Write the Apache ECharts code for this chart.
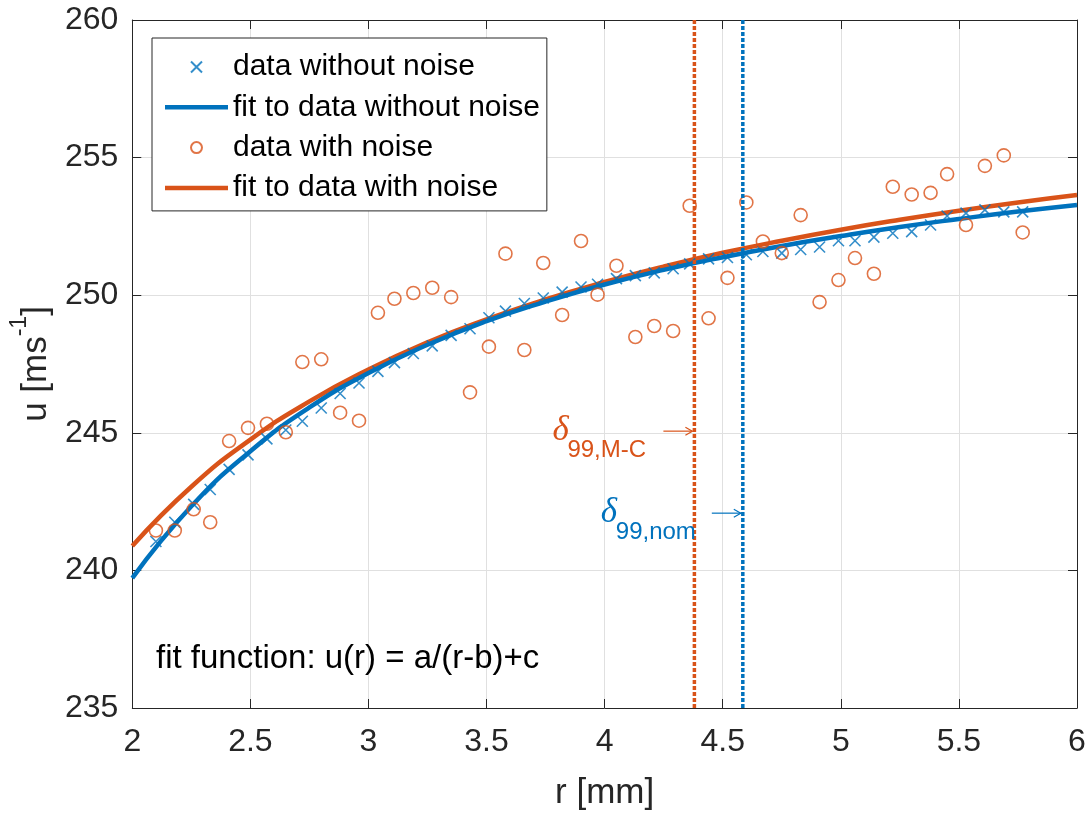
<!DOCTYPE html>
<html>
<head>
<meta charset="utf-8">
<script src="https://cdn.jsdelivr.net/npm/echarts@6/dist/echarts.min.js"></script>
<style>
html,body{margin:0;padding:0;background:#fff}
#c{width:1090px;height:816px}
</style>
</head>
<body>
<div id="c"></div>
<script>
// ---- data ----
const rValues = [2.10, 2.18, 2.26, 2.33, 2.41, 2.49, 2.57, 2.65, 2.72, 2.80,
  2.88, 2.96, 3.04, 3.11, 3.19, 3.27, 3.35, 3.43, 3.51, 3.58,
  3.66, 3.74, 3.82, 3.90, 3.97, 4.05, 4.13, 4.21, 4.29, 4.36,
  4.44, 4.52, 4.60, 4.67, 4.75, 4.83, 4.91, 4.99, 5.06, 5.14,
  5.22, 5.30, 5.38, 5.45, 5.53, 5.61, 5.69, 5.77];
const uWithoutNoise = [241.05, 241.75, 242.40, 242.94, 243.67, 244.20, 244.78, 245.10, 245.42, 245.90,
  246.43, 246.81, 247.23, 247.55, 247.88, 248.16, 248.54, 248.78, 249.18, 249.42,
  249.70, 249.90, 250.11, 250.30, 250.40, 250.60, 250.71, 250.81, 250.96, 251.14,
  251.32, 251.37, 251.47, 251.59, 251.53, 251.66, 251.75, 251.98, 251.98, 252.11,
  252.25, 252.31, 252.55, 252.88, 252.98, 253.10, 253.03, 253.03];
const uWithNoise = [241.45, 241.45, 242.22, 241.75, 244.70, 245.18, 245.33, 245.02, 247.57, 247.67,
  245.73, 245.44, 249.36, 249.87, 250.08, 250.27, 249.93, 246.47, 248.13, 251.51,
  248.01, 251.17, 249.28, 251.97, 250.02, 251.07, 248.48, 248.88, 248.70, 253.25,
  249.16, 250.63, 253.37, 251.95, 251.53, 252.91, 249.75, 250.55, 251.35, 250.78,
  253.94, 253.66, 253.72, 254.40, 252.55, 254.70, 255.08, 252.28];
const fitR = [2.00, 2.25, 2.50, 2.75, 3.00, 3.25, 3.50, 3.75, 4.00, 4.25, 4.50, 4.75, 5.00, 5.25, 5.50, 5.75, 6.00];
const fitWithoutNoise = [239.72, 242.33, 244.33, 245.92, 247.17, 248.20, 249.06, 249.77, 250.39, 250.92, 251.38, 251.79, 252.15, 252.48, 252.77, 253.04, 253.28];
const fitWithNoise = [240.89, 243.04, 244.75, 246.14, 247.30, 248.29, 249.12, 249.85, 250.48, 251.04, 251.54, 251.98, 252.38, 252.74, 253.07, 253.37, 253.64];
const delta99MC = 4.38;
const delta99Nom = 4.585;
const uRange = [235, 260];
const rRange = [2, 6];
const labelMC = {main: 'δ', sub: '99,M-C', u: 245.06};
const labelNom = {main: 'δ', sub: '99,nom', u: 242.08};
const fitText = 'fit function: u(r) = a/(r-b)+c';

// ---- styles ----
const BLUE = '#0072BD';
const ORANGE = '#D95319';
const AX = '#262626';
const FONT = '"Liberation Sans", Arial, Helvetica, sans-serif';
const CROSS = 'path://M0,0L10,10M10,0L0,10';
const LINE_ICON = 'path://M0,0h126v9h-126z';

const zip = (a, b) => a.map((v, i) => [v, b[i]]);

const chart = echarts.init(document.getElementById('c'), null, {renderer: 'canvas'});

const axisCommon = {
  axisLine: {show: true, lineStyle: {color: AX, width: 1}},
  axisTick: {show: true, inside: true, length: 9, lineStyle: {color: AX, width: 1}},
};

chart.setOption({
  animation: false,
  backgroundColor: '#fff',
  grid: {left: 131, right: 13, top: 20, bottom: 106, containLabel: false},
  legend: {
    orient: 'vertical',
    left: 152, top: 38,
    padding: [14, 7, 8, 13],
    itemGap: 10.3,
    itemWidth: 63,
    itemHeight: 11,
    itemTextGap: 10,
    backgroundColor: '#fff',
    borderColor: AX,
    borderWidth: 1,
    borderRadius: 0,
    textStyle: {fontSize: 30, color: '#000', fontFamily: FONT},
    data: [
      {name: 'data without noise'},
      {name: 'fit to data without noise', icon: LINE_ICON},
      {name: 'data with noise'},
      {name: 'fit to data with noise', icon: LINE_ICON}
    ]
  },
  xAxis: [
    Object.assign({
      type: 'value', min: rRange[0], max: rRange[1], interval: 0.5,
      position: 'bottom',
      name: 'r [mm]', nameLocation: 'middle', nameGap: 68,
      nameTextStyle: {fontSize: 35, color: AX, fontFamily: FONT},
      axisLabel: {fontSize: 32, color: AX, fontFamily: FONT, margin: 18},
      splitLine: {show: true, lineStyle: {color: '#e0e0e0', width: 1}}
    }, axisCommon),
    Object.assign({
      type: 'value', min: rRange[0], max: rRange[1], interval: 0.5,
      position: 'top',
      axisLabel: {show: false},
      splitLine: {show: false}
    }, axisCommon)
  ],
  yAxis: [
    Object.assign({
      type: 'value', min: uRange[0], max: uRange[1], interval: 5,
      position: 'left',
      name: '{b|u [ms}{sup|-1}{b|]}', nameLocation: 'middle', nameGap: 58,
      nameTextStyle: {fontSize: 35, color: AX, fontFamily: FONT,
        rich: {
          b: {fontSize: 35, color: AX, fontFamily: FONT, lineHeight: 46, verticalAlign: 'bottom'},
          sup: {fontSize: 23, color: AX, fontFamily: FONT, lineHeight: 46, verticalAlign: 'top'}
        }},
      axisLabel: {fontSize: 32, color: AX, fontFamily: FONT, margin: 14},
      splitLine: {show: true, lineStyle: {color: '#e0e0e0', width: 1}}
    }, axisCommon),
    Object.assign({
      type: 'value', min: uRange[0], max: uRange[1], interval: 5,
      position: 'right',
      axisLabel: {show: false},
      splitLine: {show: false}
    }, axisCommon)
  ],
  series: [
    {
      name: 'fit to data with noise', type: 'line', data: zip(fitR, fitWithNoise),
      smooth: true, symbol: 'none', showSymbol: false,
      lineStyle: {color: ORANGE, width: 4.5}, itemStyle: {color: ORANGE}, z: 2
    },
    {
      name: 'fit to data without noise', type: 'line', data: zip(fitR, fitWithoutNoise),
      smooth: true, symbol: 'none', showSymbol: false,
      lineStyle: {color: BLUE, width: 4.5}, itemStyle: {color: BLUE}, z: 2
    },
    {
      name: 'data without noise', type: 'scatter', data: zip(rValues, uWithoutNoise),
      symbol: CROSS, symbolSize: 11,
      itemStyle: {color: BLUE, borderColor: BLUE, borderWidth: 1.6}, z: 3
    },
    {
      name: 'data with noise', type: 'scatter', data: zip(rValues, uWithNoise),
      symbol: 'circle', symbolSize: 13,
      itemStyle: {color: 'rgba(255,255,255,0)', borderColor: ORANGE, borderWidth: 1.6}, z: 4
    },
    {
      name: 'delta99 M-C', type: 'line', data: [[delta99MC, uRange[0]], [delta99MC, uRange[1]]],
      symbol: 'none', lineStyle: {color: ORANGE, width: 3.5, type: [4, 2]}, z: 5
    },
    {
      name: 'delta99 nom', type: 'line', data: [[delta99Nom, uRange[0]], [delta99Nom, uRange[1]]],
      symbol: 'none', lineStyle: {color: BLUE, width: 3.5, type: [4, 2]}, z: 5
    }
  ]
});

function annotation(xLine, lab, color) {
  const p = chart.convertToPixel({gridIndex: 0}, [xLine, lab.u]);
  const tip = p[0] - 2, y = p[1];
  return [
    {type: 'line', silent: true, z: 10,
      shape: {x1: tip - 29, y1: y, x2: tip, y2: y},
      style: {stroke: color, lineWidth: 1.2}},
    {type: 'polyline', silent: true, z: 10,
      shape: {points: [[tip - 7, y - 4], [tip, y], [tip - 7, y + 4]]},
      style: {stroke: color, lineWidth: 1.2, fill: null}},
    {type: 'text', silent: true, z: 10, x: tip - 140, y: y + 17,
      style: {text: lab.main, font: 'italic 35px "Liberation Serif", "DejaVu Serif", serif',
        fill: color, align: 'left', verticalAlign: 'bottom'}},
    {type: 'text', silent: true, z: 10, x: tip - 125, y: y + 31,
      style: {text: lab.sub, font: '24px ' + FONT, fill: color, align: 'left', verticalAlign: 'bottom'}}
  ];
}

chart.setOption({
  graphic: [].concat(
    annotation(delta99MC, labelMC, ORANGE),
    annotation(delta99Nom, labelNom, BLUE),
    [{type: 'text', silent: true, z: 10, x: 156, y: 659,
      style: {text: fitText, font: '33px ' + FONT, fill: '#000', align: 'left', verticalAlign: 'middle'}}]
  )
});
</script>
</body>
</html>
